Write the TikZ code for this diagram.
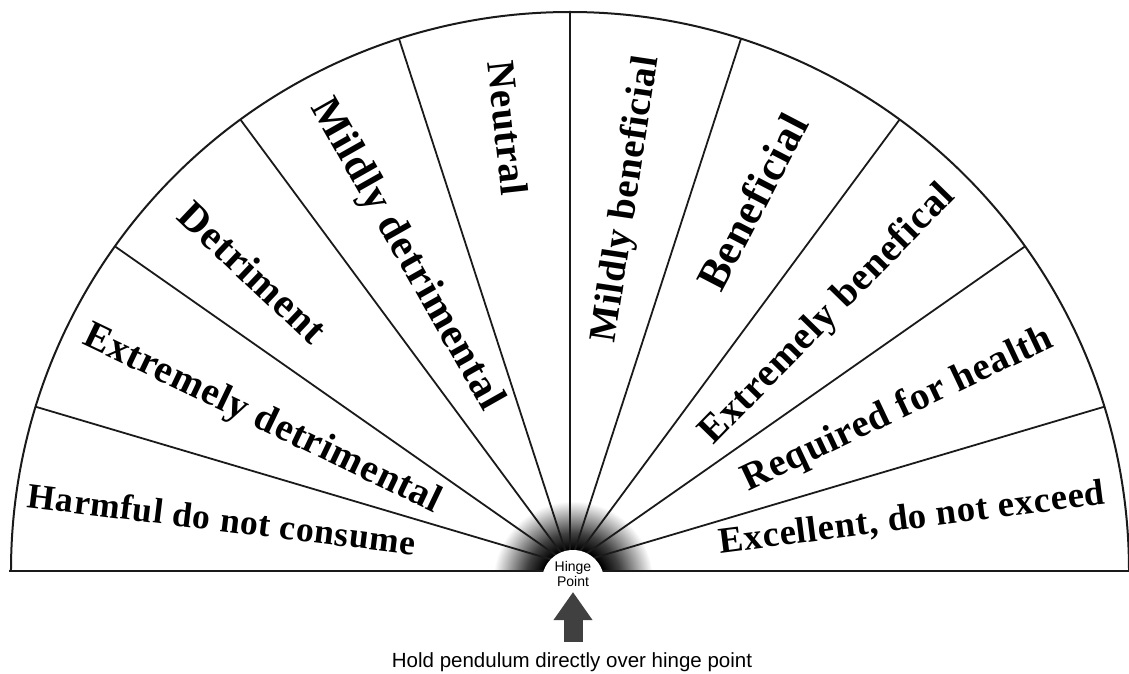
\documentclass[tikz,border=0pt]{standalone}
\usepackage{fontspec}
\setmainfont{Liberation Sans}
\newfontfamily\dialfont[LetterSpace=2.0]{Liberation Serif}
\usetikzlibrary{arrows.meta}
\definecolor{dialInk}{RGB}{26,26,26}
\definecolor{arrowGrey}{RGB}{64,64,64}
\pgfdeclareradialshading{hingeglow}{\pgfpoint{0bp}{0bp}}{color(0bp)=(black); color(10bp)=(black); color(15bp)=(black!75); color(25bp)=(white); color(50bp)=(white)}
\newcommand{\DialSize}[1]{\fontsize{#1}{#1}\selectfont}

\begin{document}
\begin{tikzpicture}[x=1pt,y=1pt,
  spoke/.style={dialInk,line width=1.8pt},
  rim/.style={dialInk,line width=2pt},
  dial label/.style={inner sep=0pt,text=black}]
\useasboundingbox (-570,-102) rectangle (559,571);
% glow round the hinge
\begin{scope}
  \clip (-95,0) rectangle (95,95);
  \shade[shading=hingeglow] (3,-10) circle (80pt);
\end{scope}
% spokes
\begin{scope}
  \clip (559pt,0) arc[start angle=0,end angle=180,radius=559pt] -- cycle;
  \foreach \ang in {16.5,35,53.5,72,90,108,126.5,145,163.5}
    \draw[spoke] (0,6) -- ++(\ang:620pt);
\end{scope}
\draw[rim] (559pt,0) arc[start angle=0,end angle=180,radius=559pt];
\draw[dialInk,line width=2.6pt] (-561,0) -- (559,0);
\fill[white] (3,-10) circle (31pt);
\node[font=\fontsize{14}{13}\selectfont,align=center,inner sep=0pt] (hinge) at (3,-3) {Hinge\\Point};
\coordinate (arrow tail) at (3,-71);
\coordinate (arrow tip) at (3,-21);
\draw[arrowGrey,line width=19pt,-{Triangle[width=37pt,length=28pt]}] (arrow tail) -- (arrow tip);
\node[font=\fontsize{20.5}{24}\selectfont,anchor=base,inner sep=0pt] (caption) at (2,-96) {Hold pendulum directly over hinge point};
% sector labels
\foreach \px/\py/\rot/\sz/\txt [count=\i] in {
  -348/52/-7/35.5/{Harmful do not consume},
  -308/151/-25.6/39/{Extremely detrimental},
  -317/299/-43.4/41/{Detriment},
  -164/316/-60.5/41.8/{Mildly detrimental},
  -62/443/-83.6/39.5/{Neutral},
  57/372/81.5/38.5/{Mildly beneficial},
  182/369/62.5/43.5/{Beneficial},
  258/256/45.6/39.3/{Extremely benefical},
  328/161/25.3/38.8/{Required for health},
  342/52/7.3/36.6/{Excellent, do not exceed}}
  \node[dial label,rotate=\rot,font=\dialfont\bfseries\DialSize{\sz}] (sector-\i) at (\px,\py) {\txt};
\end{tikzpicture}
\end{document}
